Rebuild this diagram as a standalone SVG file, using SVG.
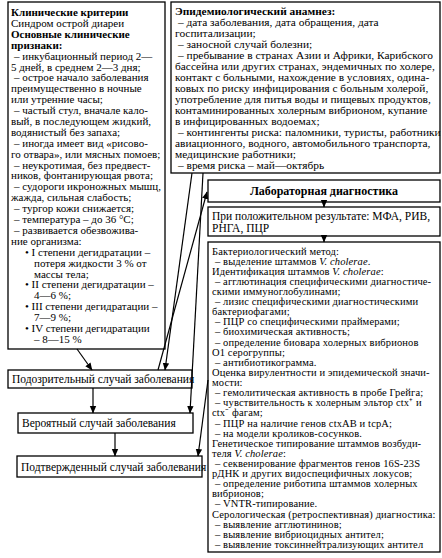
<svg xmlns="http://www.w3.org/2000/svg" width="442" height="558" viewBox="0 0 442 558">
<style>
.box{fill:#fff;stroke:#000;stroke-width:1.3}
.t{font-family:"Liberation Serif","Times New Roman",serif;font-size:11px;fill:#000}
.b{font-weight:bold}
.e{font-size:11.4px}
.s{font-size:10.5px;letter-spacing:0.12px}
.m{font-size:12px}
.p{font-size:11.5px}
.c{font-size:11.5px}
.i{font-style:italic}
.ln{stroke:#000;stroke-width:1.2;fill:none}
</style>
<defs>
<marker id="ah" markerWidth="8" markerHeight="8" refX="7" refY="4" orient="auto" markerUnits="userSpaceOnUse">
<path d="M0,0.8 L7.5,4 L0,7.2 Z" fill="#000"/>
</marker>
</defs>
<rect width="442" height="558" fill="#fff"/>
<g id="clinical">
<rect class="box" x="8" y="2" width="157" height="347"/>
<text class="t" x="11" y="16">
<tspan x="11" class="b">Клинические критерии</tspan>
<tspan x="11" dy="10.9">Синдром острой диареи</tspan>
<tspan x="11" dy="10.9" class="b">Основные клинические</tspan>
<tspan x="11" dy="10.9" class="b">признаки:</tspan>
<tspan x="14" dy="10.9">– инкубационный период 2—</tspan>
<tspan x="11" dy="10.9">5 дней, в среднем 2—3 дня;</tspan>
<tspan x="14" dy="10.9">– острое начало заболевания</tspan>
<tspan x="11" dy="10.9">преимущественно в ночные</tspan>
<tspan x="11" dy="10.9">или утренние часы;</tspan>
<tspan x="14" dy="10.9">– частый стул, вначале кало-</tspan>
<tspan x="11" dy="10.9">вый, в последующем жидкий,</tspan>
<tspan x="11" dy="10.9">водянистый без запаха;</tspan>
<tspan x="14" dy="10.9">– иногда имеет вид «рисово-</tspan>
<tspan x="11" dy="10.9">го отвара», или мясных помоев;</tspan>
<tspan x="14" dy="10.9">– неукротимая, без предвест-</tspan>
<tspan x="11" dy="10.9">ников, фонтанирующая рвота;</tspan>
<tspan x="14" dy="10.9">– судороги икроножных мышц,</tspan>
<tspan x="11" dy="10.9">жажда, сильная слабость;</tspan>
<tspan x="14" dy="10.9">– тургор кожи снижается;</tspan>
<tspan x="14" dy="10.9">– температура – до 36 °С;</tspan>
<tspan x="14" dy="10.9">– развивается обезвожива-</tspan>
<tspan x="11" dy="10.9">ние организма:</tspan>
<tspan x="25" dy="10.9">• I степени дегидратации –</tspan>
<tspan x="34" dy="10.9">потеря жидкости 3 % от</tspan>
<tspan x="34" dy="10.9">массы тела;</tspan>
<tspan x="25" dy="10.9">• II степени дегидратации –</tspan>
<tspan x="34" dy="10.9">4—6 %;</tspan>
<tspan x="25" dy="10.9">• III степени дегидратации –</tspan>
<tspan x="34" dy="10.9">7—9 %;</tspan>
<tspan x="25" dy="10.9">• IV степени дегидратации</tspan>
<tspan x="34" dy="10.9">– 8—15 %</tspan>
</text>
</g>
<g id="epid">
<rect class="box" x="171" y="2" width="269" height="171"/>
<text class="t e" x="175" y="15">
<tspan x="175" class="b">Эпидемиологический анамнез:</tspan>
<tspan x="178" dy="11">– дата заболевания, дата обращения, дата</tspan>
<tspan x="175" dy="11">госпитализации;</tspan>
<tspan x="178" dy="11">– заносной случай болезни;</tspan>
<tspan x="178" dy="11">– пребывание в странах Азии и Африки, Карибского</tspan>
<tspan x="175" dy="11">бассейна или других странах, эндемичных по холере,</tspan>
<tspan x="175" dy="11">контакт с больными, нахождение в условиях, одина-</tspan>
<tspan x="175" dy="11">ковых по риску инфицирования с больным холерой,</tspan>
<tspan x="175" dy="11">употребление для питья воды и пищевых продуктов,</tspan>
<tspan x="175" dy="11">контаминированных холерным вибрионом, купание</tspan>
<tspan x="175" dy="11">в инфицированных водоемах;</tspan>
<tspan x="178" dy="11">– контингенты риска: паломники, туристы, работники</tspan>
<tspan x="175" dy="11">авиационного, водного, автомобильного транспорта,</tspan>
<tspan x="175" dy="11">медицинские работники;</tspan>
<tspan x="178" dy="11">– время риска – май—октябрь</tspan>
</text>
</g>
<g id="lab">
<rect class="box" x="208" y="180" width="232" height="22"/>
<text class="t m b" x="324" y="195" text-anchor="middle">Лабораторная диагностика</text>
</g>
<g id="positive">
<rect class="box" x="208" y="207" width="232" height="29"/>
<text class="t p" x="212" y="219.5"><tspan x="212">При положительном результате: МФА, РИВ,</tspan><tspan x="212" dy="12">РНГА, ПЦР</tspan></text>
</g>
<g id="bact">
<rect class="box" x="208" y="242" width="232" height="310"/>
<text class="t s" x="212" y="254.5">
<tspan x="212">Бактериологический метод:</tspan>
<tspan x="215" dy="10.12">– выделение штаммов <tspan class="i">V. cholerae</tspan>.</tspan>
<tspan x="212" dy="10.12">Идентификация штаммов <tspan class="i">V. cholerae</tspan>:</tspan>
<tspan x="215" dy="10.12">– агглютинация специфическими диагностиче-</tspan>
<tspan x="212" dy="10.12">скими иммуноглобулинами;</tspan>
<tspan x="215" dy="10.12">– лизис специфическими  диагностическими</tspan>
<tspan x="212" dy="10.12">бактериофагами;</tspan>
<tspan x="215" dy="10.12">– ПЦР со специфическими праймерами;</tspan>
<tspan x="215" dy="10.12">– биохимическая активность;</tspan>
<tspan x="215" dy="10.12">– определение биовара холерных вибрионов</tspan>
<tspan x="212" dy="10.12">О1 серогруппы;</tspan>
<tspan x="215" dy="10.12">– антибиотикограмма.</tspan>
<tspan x="212" dy="10.12">Оценка вирулентности и эпидемической значи-</tspan>
<tspan x="212" dy="10.12">мости:</tspan>
<tspan x="215" dy="10.12">– гемолитическая активность в пробе Грейга;</tspan>
<tspan x="215" dy="10.12">– чувствительность к холерным эльтор ctx⁺ и</tspan>
<tspan x="212" dy="10.12">ctx⁻ фагам;</tspan>
<tspan x="215" dy="10.12">– ПЦР на наличие генов ctxAB и tcpA;</tspan>
<tspan x="215" dy="10.12">– на модели кроликов-сосунков.</tspan>
<tspan x="212" dy="10.12">Генетическое типирование штаммов возбуди-</tspan>
<tspan x="212" dy="10.12">теля <tspan class="i">V. cholerae</tspan>:</tspan>
<tspan x="215" dy="10.12">– секвенирование фрагментов генов 16S-23S</tspan>
<tspan x="212" dy="10.12">рДНК и других видоспецифичных локусов;</tspan>
<tspan x="215" dy="10.12">– определение риботипа штаммов холерных</tspan>
<tspan x="212" dy="10.12">вибрионов;</tspan>
<tspan x="215" dy="10.12">– VNTR-типирование.</tspan>
<tspan x="212" dy="10.12">Серологическая (ретроспективная) диагностика:</tspan>
<tspan x="215" dy="10.12">– выявление агглютининов;</tspan>
<tspan x="215" dy="10.12">– выявление вибриоцидных антител;</tspan>
<tspan x="215" dy="10.12">– выявление токсиннейтрализующих антител</tspan>
</text>
</g>
<g id="suspected">
<rect class="box" x="8" y="370" width="184" height="18"/>
<text class="t c" x="12" y="383">Подозрительный случай заболевания</text>
</g>
<g id="probable">
<rect class="box" x="18" y="413" width="175" height="20"/>
<text class="t c" x="22" y="427">Вероятный случай заболевания</text>
</g>
<g id="confirmed">
<rect class="box" x="17" y="456" width="185" height="21"/>
<text class="t c" x="21" y="471">Подтвержденный случай заболевания</text>
</g>
<g id="connectors">
<line class="ln" x1="77" y1="349" x2="92" y2="370" marker-end="url(#ah)"/>
<line class="ln" x1="93" y1="388" x2="93" y2="413" marker-end="url(#ah)"/>
<line class="ln" x1="115" y1="433" x2="115" y2="456" marker-end="url(#ah)"/>
<line class="ln" x1="192" y1="173" x2="165" y2="370" marker-end="url(#ah)"/>
<line class="ln" x1="203" y1="173" x2="190" y2="413" marker-end="url(#ah)"/>
<line class="ln" x1="158" y1="370" x2="207" y2="192" marker-end="url(#ah)"/>
<line class="ln" x1="208" y1="380" x2="198" y2="456" marker-end="url(#ah)"/>
<line class="ln" x1="324" y1="202" x2="324" y2="207" marker-end="url(#ah)"/>
<line class="ln" x1="324" y1="236" x2="324" y2="242" marker-end="url(#ah)"/>
</g>
</svg>
